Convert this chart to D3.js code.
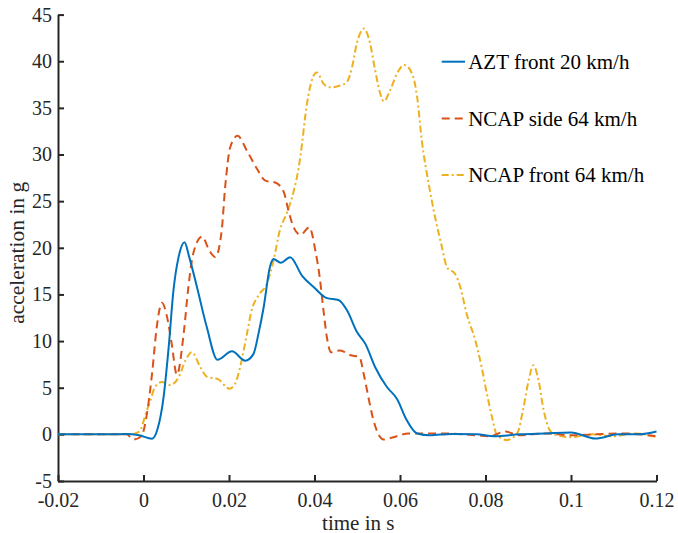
<!DOCTYPE html>
<html>
<head>
<meta charset="utf-8">
<script src="https://cdn.jsdelivr.net/npm/d3@7"></script>
<style>
  body { margin: 0; background: #fff; }
  svg text { font-family: "Liberation Serif", "Times New Roman", serif; fill: #262626; }
</style>
</head>
<body>
<div id="chart"></div>
<script>
// series (time in s, acceleration in g)
var aztTime = [-0.02, -0.01, -0.004, -0.001, 0.002, 0.0033, 0.0047, 0.0059, 0.0070, 0.0082, 0.0096, 0.0107, 0.0125, 0.0148, 0.0173, 0.0207, 0.0238, 0.0257, 0.0269, 0.0281, 0.0296, 0.0304, 0.0321, 0.0343, 0.0371, 0.0398, 0.0429, 0.0456, 0.0476, 0.0499, 0.0519, 0.0542, 0.0569, 0.0593, 0.0616, 0.064, 0.067, 0.072, 0.078, 0.082, 0.088, 0.094, 0.1, 0.1057, 0.111, 0.116, 0.12];
var aztAcc = [0, 0, 0.05, -0.1, -0.46, 0.6, 4.0, 9.4, 15.4, 19.0, 20.6, 19.0, 15.8, 11.5, 8.0, 8.9, 7.9, 8.6, 10.8, 13.6, 18.0, 18.8, 18.4, 19.0, 17.0, 15.8, 14.6, 14.4, 13.3, 11.0, 9.7, 7.2, 5.1, 3.8, 1.5, 0.1, -0.1, 0.05, 0.0, -0.2, 0.0, 0.1, 0.2, -0.45, 0.0, 0.0, 0.3];

var sideTime = [-0.02, -0.01, -0.004, -0.0023, -0.0005, 0.0008, 0.002, 0.0031, 0.0043, 0.0055, 0.0066, 0.0078, 0.0094, 0.0105, 0.0117, 0.0137, 0.0154, 0.0168, 0.0183, 0.0191, 0.0203, 0.0220, 0.0242, 0.0265, 0.0285, 0.0308, 0.0328, 0.0339, 0.0351, 0.0367, 0.0388, 0.0402, 0.0412, 0.0421, 0.0429, 0.0439, 0.046, 0.0483, 0.0505, 0.0515, 0.0526, 0.0538, 0.0562, 0.0585, 0.062, 0.07, 0.078, 0.081, 0.0846, 0.088, 0.094, 0.1, 0.106, 0.112, 0.12];
var sideAcc = [0, 0, 0, -0.55, -0.2, 2.2, 6.5, 11.5, 14.1, 12.6, 9.7, 6.4, 10.8, 15.8, 19.5, 21.2, 19.7, 19.0, 21.9, 26.5, 30.8, 32.0, 30.4, 28.5, 27.2, 27.0, 26.0, 24.0, 22.2, 21.4, 22.2, 19.7, 16.9, 13.3, 10.4, 8.8, 9.0, 8.5, 8.3, 6.5, 4.0, 1.5, -0.55, -0.3, 0.1, 0.1, -0.1, -0.2, 0.3, -0.1, 0.1, -0.1, 0.0, 0.1, -0.2];

var frontTime = [-0.02, -0.01, -0.003, -0.001, 0.0008, 0.0016, 0.0027, 0.0043, 0.0062, 0.0082, 0.0098, 0.0113, 0.0133, 0.0148, 0.0175, 0.0201, 0.0214, 0.0226, 0.0242, 0.0253, 0.0269, 0.0289, 0.0304, 0.0319, 0.0335, 0.0351, 0.0363, 0.0371, 0.0378, 0.0388, 0.0405, 0.0421, 0.0437, 0.046, 0.0476, 0.0488, 0.0499, 0.0516, 0.053, 0.0542, 0.0554, 0.0562, 0.0577, 0.0593, 0.061, 0.0628, 0.0640, 0.0651, 0.0667, 0.0682, 0.0698, 0.071, 0.0729, 0.0741, 0.0756, 0.0776, 0.0791, 0.0803, 0.0815, 0.0827, 0.085, 0.0874, 0.0889, 0.0901, 0.0912, 0.0924, 0.0936, 0.0951, 0.0967, 0.1, 0.105, 0.11, 0.115, 0.12];
var frontAcc = [0, 0, 0, 0.3, 2.6, 3.6, 5.1, 5.6, 5.3, 6.1, 7.9, 8.8, 7.2, 6.2, 5.9, 4.9, 5.4, 7.2, 10.8, 13.3, 14.9, 16.2, 18.6, 21.9, 23.7, 26.0, 28.6, 31.2, 34.0, 36.9, 38.8, 37.6, 37.2, 37.4, 37.8, 39.4, 41.9, 43.5, 41.9, 39.0, 36.5, 35.7, 36.9, 38.7, 39.6, 38.7, 36.2, 31.5, 26.9, 23.3, 20.1, 17.9, 17.2, 15.8, 12.9, 10.1, 7.2, 4.4, 1.9, -0.1, -0.6, 0.1, 2.9, 5.8, 7.4, 5.8, 2.6, 0.4, -0.1, -0.3, 0.0, -0.2, 0.1, -0.3];

var seriesNames = ["AZT front 20 km/h", "NCAP side 64 km/h", "NCAP front 64 km/h"];
var xTicks = [-0.02, 0, 0.02, 0.04, 0.06, 0.08, 0.1, 0.12];
var yTicks = [-5, 0, 5, 10, 15, 20, 25, 30, 35, 40, 45];

var colors = ["#0072BD", "#D95319", "#EDB120"];
var dashes = [null, "8,5", "7,3,2,3"];

var W = 678, H = 533;
var margin = {top: 14.6, right: 21.5, bottom: 52, left: 58};
var width = W - margin.left - margin.right,
    height = H - margin.top - margin.bottom;

var svg = d3.select("#chart").append("svg")
    .attr("width", W)
    .attr("height", H)
  .append("g")
    .attr("transform", "translate(" + margin.left + "," + margin.top + ")");

var x = d3.scaleLinear().domain([-0.02, 0.12]).range([0, width]);
var y = d3.scaleLinear().domain([-5, 45]).range([height, 0]);

// plain hyphen for negatives, like the original figure
var plain = function(d) { return String(d); };

// axes (only left and bottom, ticks pointing inwards)
var xAxis = d3.axisBottom(x).tickValues(xTicks).tickFormat(plain).tickSizeInner(-6).tickSizeOuter(0).tickPadding(12);
var yAxis = d3.axisLeft(y).tickValues(yTicks).tickFormat(plain).tickSizeInner(-6).tickSizeOuter(0).tickPadding(6);

var gx = svg.append("g")
    .attr("transform", "translate(0," + height + ")")
    .call(xAxis);
var gy = svg.append("g").call(yAxis);

[gx, gy].forEach(function(g) {
  g.select(".domain").attr("stroke", "#262626").attr("stroke-width", 2);
  g.selectAll(".tick line").attr("stroke", "#262626").attr("stroke-width", 2);
  g.selectAll(".tick text").style("font-size", "20px").style("font-family", "Liberation Serif").attr("fill", "#262626");
});

// axis titles
svg.append("text")
    .attr("x", width / 2 + 1)
    .attr("y", 515.5)
    .attr("text-anchor", "middle")
    .style("font-size", "21px")
    .text("time in s");

svg.append("text")
    .attr("transform", "translate(-34.5," + (height / 2 + 5) + ") rotate(-90)")
    .attr("text-anchor", "middle")
    .style("font-size", "21.5px")
    .text("acceleration in g");

// the three curves
var series = [
  {name: seriesNames[0], t: aztTime, g: aztAcc},
  {name: seriesNames[1], t: sideTime, g: sideAcc},
  {name: seriesNames[2], t: frontTime, g: frontAcc}
];

var line = d3.line()
    .x(function(d) { return x(d[0]); })
    .y(function(d) { return y(d[1]); })
    .curve(d3.curveMonotoneX);

// draw in reverse so the blue line sits on top
series.slice().reverse().forEach(function(s) {
  var i = series.indexOf(s);
  svg.append("path")
      .datum(s.t.map(function(t, k) { return [t, s.g[k]]; }))
      .attr("fill", "none")
      .attr("stroke", colors[i])
      .attr("stroke-width", 2)
      .attr("stroke-dasharray", dashes[i])
      .attr("d", line);
});

// legend
var legend = svg.selectAll(".legend")
    .data(series)
  .enter().append("g")
    .attr("class", "legend")
    .attr("transform", function(d, i) { return "translate(" + (441.7 - margin.left) + "," + (61.7 - margin.top + i * 56.7) + ")"; });

legend.append("line")
    .attr("x1", 0).attr("x2", 23.3)
    .attr("y1", 0).attr("y2", 0)
    .attr("stroke", function(d, i) { return colors[i]; })
    .attr("stroke-width", 2)
    .attr("stroke-dasharray", function(d, i) { return dashes[i]; });

legend.append("text")
    .attr("x", 26.5)
    .attr("y", 0)
    .attr("dy", "0.34em")
    .style("font-size", "21px")
    .style("fill", "#000")
    .text(function(d) { return d.name; });
</script>
</body>
</html>
